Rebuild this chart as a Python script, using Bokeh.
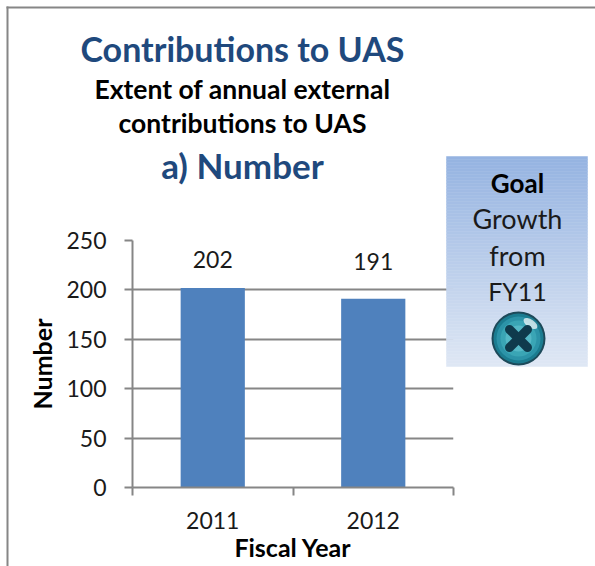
from bokeh.embed import file_html
from bokeh.resources import INLINE
from bokeh.plotting import figure
from bokeh.layouts import column
from bokeh.models import ColumnDataSource, FixedTicker, Range1d
from bokeh.core.properties import value

years = [2011, 2012]
numbers = [202, 191]
y_ticks = [0, 50, 100, 150, 200, 250]
title_main = "Contributions to UAS"
subtitle_lines = ["Extent of annual external", "contributions to UAS"]
title_part = "a) Number"
goal_lines = ["Goal", "Growth", "from", "FY11"]
FONT = "Lato"
GRAY = "#868686"
W, H = 595, 566

p = figure(width=W, height=H, output_backend="svg", toolbar_location=None,
           x_range=Range1d(2010.5, 2012.5), y_range=Range1d(0, 250),
           min_border_left=132, min_border_right=142, min_border_top=240, min_border_bottom=79,
           tools="", background_fill_color="white", border_fill_color="white", margin=(0, 0, 0, 0),
           frame_align=False)
p.outline_line_color = None
p.xgrid.visible = False
p.ygrid.ticker = FixedTicker(ticks=y_ticks)
p.ygrid.grid_line_color = GRAY
p.ygrid.grid_line_width = 2

label_lift = [-20, -29]
src = ColumnDataSource(dict(x=years, top=numbers, label=[str(n) for n in numbers], lift=label_lift))
p.vbar(x="x", top="top", width=0.4, bottom=0, source=src, fill_color="#4F81BD", line_color=None)
p.text(x="x", y="top", text="label", source=src, text_align="center", text_baseline="bottom",
       y_offset="lift", text_font=value(FONT), text_font_size="23px", text_color="#1a1a1a")

xa = p.xaxis[0]
xa.ticker = FixedTicker(ticks=years, minor_ticks=[2010.5, 2011.5, 2012.5])
xa.major_label_overrides = {y: str(y) for y in years}
xa.major_tick_line_color = None
xa.minor_tick_line_color = GRAY
xa.minor_tick_line_width = 2
xa.minor_tick_in = 0
xa.minor_tick_out = 8
xa.axis_line_color = GRAY
xa.axis_line_width = 2
xa.major_label_standoff = 16
xa.major_label_text_font = FONT
xa.major_label_text_font_size = "23px"
xa.major_label_text_color = "#1a1a1a"
xa.axis_label = "Fiscal Year"
xa.axis_label_text_font = FONT
xa.axis_label_text_font_style = "bold"
xa.axis_label_text_font_size = "25px"
xa.axis_label_text_color = "black"
xa.axis_label_standoff = 0

ya = p.yaxis[0]
ya.ticker = FixedTicker(ticks=y_ticks)
ya.minor_tick_line_color = None
ya.major_tick_line_color = GRAY
ya.major_tick_line_width = 2
ya.major_tick_in = 0
ya.major_tick_out = 8
ya.axis_line_color = GRAY
ya.axis_line_width = 2
ya.major_label_standoff = 18
ya.major_label_text_font = FONT
ya.major_label_text_font_size = "23px"
ya.major_label_text_color = "#1a1a1a"
ya.axis_label = "Number"
ya.axis_label_text_font = FONT
ya.axis_label_text_font_style = "bold"
ya.axis_label_text_font_size = "25px"
ya.axis_label_text_color = "black"
ya.axis_label_standoff = 6

# Overlay in page pixels: frame rules, titles and the goal panel sit outside the plot's frame.
o = figure(width=W, height=H, output_backend="svg", toolbar_location=None,
           x_range=Range1d(0, W), y_range=Range1d(H, 0), tools="",
           min_border=0, margin=(-H, 0, 0, 0),
           background_fill_alpha=0, border_fill_alpha=0, frame_align=False)
o.outline_line_color = None
o.axis.visible = False
o.grid.visible = False


def label(text, cx, cy, size, color="black", bold=False):
    o.text(x=[cx], y=[cy], text=[text], text_align="center", text_baseline="middle",
           text_font=value(FONT), text_font_size=size, text_color=color,
           text_font_style="bold" if bold else "normal")


o.quad(left=[6, 6], right=[W, 8], top=[6, 6], bottom=[8, H], fill_color=GRAY, line_color=None)

label(title_main, 242, 48, "34px", "#1F497D", True)
label(subtitle_lines[0], 242, 88, "26.5px", "black", True)
label(subtitle_lines[1], 242, 122, "26.5px", "black", True)
label(title_part, 242, 164, "35px", "#1F497D", True)

# goal panel, vertical gradient
bx0, by0, bx1, by1 = 446, 156, 587, 366
c0, c1 = (149, 179, 225), (222, 231, 244)
n = 70
cols, tops, bots = [], [], []
for i in range(n):
    t = i / (n - 1)
    cols.append("#%02x%02x%02x" % tuple(round(a + (b - a) * t) for a, b in zip(c0, c1)))
    tops.append(by0 + (by1 - by0) * i / n)
    bots.append(by0 + (by1 - by0) * (i + 1) / n)
o.quad(left=bx0, right=bx1, top=tops, bottom=bots, fill_color=cols, line_color=cols, line_width=0.5)

label(goal_lines[0], 517, 182, "26px", "black", True)
for s, cy, size in zip(goal_lines[1:], [218, 255, 290], ["27px", "27px", "25px"]):
    label(s, 517, cy, size, "#1a1a1a")

# icon
cx, cy = 518, 338
for r, col in [(27, "#1d4a5a"), (25, "#1b7c90"), (22, "#2c93a8"), (18, "#3aa5b5"), (13, "#55b8c6")]:
    o.circle(x=[cx], y=[cy], radius=r, fill_color=col, line_color=None)
o.ellipse(x=[cx + 12], y=[cy - 15], width=16, height=8, angle=-0.6, fill_color="white", fill_alpha=0.7, line_color=None)
a = 9
o.segment(x0=[cx - a, cx - a], y0=[cy - a, cy + a], x1=[cx + a, cx + a], y1=[cy + a, cy - a],
          line_color="#0f3a4c", line_width=9, line_cap="round")

open("out.html", "w").write(file_html(column(p, o, spacing=0), INLINE))
